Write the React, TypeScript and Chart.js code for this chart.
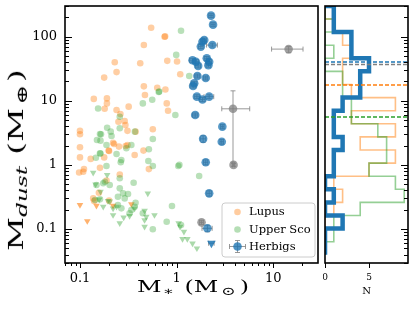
import React, { useEffect, useRef } from "react";
import { Chart, registerables } from "chart.js";
Chart.register(...registerables);

const FONT = "'DejaVu Serif', serif";

// ---------- axis ranges & tick labels ----------
const xMin = 0.07, xMax = 29;
const yMin = 0.0295, yMax = 301;
const nMin = 0, nMax = 9.43;
const xTickValues = [0.1, 1, 10];
const xTickLabels = ["0.1", "1", "10"];
const yTickValues = [0.1, 1, 10, 100];
const yTickLabels = ["0.1", "1", "10", "100"];
const nTickValues = [0, 5];
const nTickLabels = ["0", "5"];

// ---------- Lupus ----------
const lupusMstar = [0.545, 0.75, 0.76, 0.458, 0.229, 0.42, 0.80, 1.01, 0.239, 1.09, 0.178, 0.458, 0.47, 0.63, 0.765, 0.139, 0.19, 0.19, 0.79, 0.815, 0.18, 0.239, 0.319, 0.262, 0.25, 0.29, 0.295, 0.376, 0.31, 0.567, 0.10, 0.10, 0.22, 0.297, 0.10, 0.454, 0.198, 0.2, 0.368, 0.10, 0.129, 0.178, 0.161, 0.11, 0.516, 0.098, 0.108, 0.258, 0.188, 0.137, 0.14, 0.157, 0.20, 0.253, 0.225, 0.31];
const lupusMdust = [138, 100, 101, 74, 40, 38.5, 42, 41, 28, 26, 23, 16.8, 12.3, 16, 15, 10.7, 10.9, 9.1, 9.1, 7.0, 7.5, 7.2, 8.1, 6.2, 4.7, 4.85, 4.2, 3.3, 3.4, 3.6, 3.4, 3.0, 2.22, 1.97, 1.88, 1.67, 1.67, 1.65, 1.43, 1.31, 1.24, 1.31, 0.90, 0.86, 0.86, 0.76, 0.78, 0.71, 0.57, 0.30, 0.274, 0.368, 0.277, 1.93, 2.12, 2.04];
const lupusLimMstar = [0.10, 0.119, 0.148, 0.22, 0.34];
const lupusLimMdust = [0.237, 0.133, 0.231, 0.231, 0.245];

// ---------- Upper Sco ----------
const uscoMstar = [1.11, 0.99, 1.35, 0.653, 0.66, 0.559, 0.447, 0.154, 0.97, 0.258, 0.258, 0.37, 0.161, 0.165, 0.15, 0.163, 0.567, 0.212, 0.188, 0.34, 0.302, 0.516, 0.161, 0.163, 0.146, 0.268, 0.264, 0.188, 0.51, 0.567, 1.04, 0.239, 0.203, 0.258, 0.359, 0.258, 0.279, 0.314, 0.247, 0.29, 0.143, 0.161, 0.247, 0.268, 0.326, 0.34, 0.368, 0.376, 0.447, 0.895, 0.789, 0.567, 1.067, 1.71, 0.148, 0.174, 0.181, 1.11, 0.191, 0.208];
const uscoMdust = [124, 52, 24.4, 13.7, 13.9, 10.4, 9.1, 7.6, 6.0, 5.65, 3.72, 3.3, 3.03, 3.0, 2.45, 2.39, 2.54, 2.82, 2.04, 2.04, 1.82, 1.75, 1.52, 1.50, 1.29, 1.19, 1.10, 0.96, 1.15, 0.96, 0.96, 1.48, 0.486, 0.618, 0.527, 0.431, 0.36, 0.352, 0.319, 0.30, 0.283, 0.29, 0.237, 0.21, 0.176, 0.198, 0.223, 0.257, 0.176, 0.229, 0.13, 0.099, 1.0, 0.671, 0.486, 0.516, 0.547, 0.115, 3.8, 3.3];
const uscoLimMstar = [0.137, 0.191, 0.145, 0.163, 0.158, 0.195, 0.203, 0.174, 0.22, 0.239, 0.368, 0.503, 0.466, 0.22, 0.283, 0.258, 0.326, 0.485, 0.59, 0.466, 0.466, 1.05, 1.085, 1.19, 1.15, 1.29, 1.46, 1.62];
const uscoLimMdust = [0.756, 0.696, 0.498, 0.382, 0.29, 0.274, 0.27, 0.223, 0.21, 0.223, 0.21, 0.36, 0.193, 0.165, 0.152, 0.123, 0.16, 0.156, 0.165, 0.138, 0.109, 0.123, 0.109, 0.0908, 0.0698, 0.0698, 0.0598, 0.050];

// ---------- Herbigs ----------
const herbigMstar = [2.27, 2.38, 1.93, 1.85, 2.34, 1.78, 1.46, 1.58, 2.05, 2.17, 2.13, 1.67, 1.64, 2.0, 1.52, 1.48, 1.62, 1.85, 2.17, 1.556, 2.97, 1.88, 2.93, 2.0, 2.17, 2.08];
const herbigMdust = [213, 154, 89, 83.5, 74, 70, 43, 40.7, 46, 40.7, 36, 35, 24.4, 22.7, 18.8, 17, 11.6, 10.5, 11.6, 6.0, 3.95, 2.55, 2.3, 1.1, 0.36, 0.1025];
const herbigMstarErr = [0.12, 0.12, 0.1, 0.1, 0.3, 0.1, 0.1, 0.1, 0.12, 0.12, 0.12, 0.1, 0.1, 0.1, 0.1, 0.1, 0.1, 0.12, 0.25, 0.1, 0.12, 0.12, 0.12, 0.1, 0.12, 0.25];
const herbigMdustErr = [15, 11, 6, 6, 5, 5, 3, 3, 3, 3, 2.5, 2.5, 1.7, 1.6, 1.3, 1.2, 0.8, 0.8, 0.8, 0.45, 0.3, 0.3, 0.2, 0.1, 0.035, 0.012];
const herbigLimMstar = [2.29];
const herbigLimMdust = [0.06];
const herbigLimMstarErr = [0.15];

// Herbigs shown in grey
const greyMstar = [14.4, 3.83, 3.88, 1.81];
const greyMdust = [64, 7.5, 1.0, 0.127];
const greyMstarErrLo = [4.8, 0.9, 0.1, 0.08];
const greyMstarErrHi = [5.9, 1.87, 0.1, 0.08];
const greyMdustErrLo = [8, 6.4, 0.05, 0.01];
const greyMdustErrHi = [6, 6.8, 0.05, 0.01];

// ---------- Histograms (log-spaced bins, N per bin) ----------
const histBinEdges = [302, 188.8, 118.0, 73.7, 46.0, 28.8, 17.96, 11.22, 7.01, 4.38, 2.735, 1.708, 1.067, 0.666, 0.416, 0.260, 0.1625, 0.1015, 0.0634, 0.0396];
const herbigCounts = [1, 1, 3, 3, 5, 4, 4, 2, 1, 1, 2, 1, 1, 0, 1, 0, 2, 0, 0];
const lupusCounts = [0, 1, 2, 3, 2, 2, 3, 8, 3, 8, 4, 8, 5, 1, 2, 1, 0, 0, 0];
const uscoCounts = [0, 1, 0, 1, 0, 2, 2, 3, 3, 6, 7, 7, 5, 8, 9, 4, 1, 1, 0];
const herbigMedian = 40.3;
const herbigAllMedian = 36.8;
const lupusMedian = 17.6;
const uscoMedian = 5.6;

const BLUE = "#1f77b4", ORANGE = "#ff7f0e", GREEN = "#2ca02c", GREY = "#808080";

const pts = (xs: number[], ys: number[]) => xs.map((x, i) => ({ x, y: ys[i] }));

function stepPoints(edges: number[], counts: number[]) {
  const out: { x: number; y: number }[] = [{ x: 0, y: edges[0] }];
  counts.forEach((c, i) => {
    out.push({ x: c, y: edges[i] });
    out.push({ x: c, y: edges[i + 1] });
  });
  out.push({ x: 0, y: edges[edges.length - 1] });
  return out;
}

function line(ctx: CanvasRenderingContext2D, x0: number, y0: number, x1: number, y1: number) {
  ctx.beginPath();
  ctx.moveTo(x0, y0);
  ctx.lineTo(x1, y1);
  ctx.stroke();
}

const errorBarPlugin = {
  id: "errorBars",
  beforeDatasetsDraw(chart: any) {
    const { ctx, chartArea: a, scales } = chart;
    const xs = scales.x, ys = scales.y;
    ctx.save();
    ctx.beginPath();
    ctx.rect(a.left, a.top, a.right - a.left, a.bottom - a.top);
    ctx.clip();
    chart.data.datasets.forEach((ds: any) => {
      if (!ds.errX && !ds.errY) return;
      ctx.strokeStyle = ds.errColor || "rgba(128,128,128,0.8)";
      ctx.lineWidth = 1;
      ds.data.forEach((p: any, i: number) => {
        const px = xs.getPixelForValue(p.x), py = ys.getPixelForValue(p.y);
        if (ds.errX) {
          const [lo, hi] = ds.errX[i];
          const x0 = xs.getPixelForValue(p.x - lo), x1 = xs.getPixelForValue(p.x + hi);
          line(ctx, x0, py, x1, py);
          line(ctx, x0, py - 2.5, x0, py + 2.5);
          line(ctx, x1, py - 2.5, x1, py + 2.5);
        }
        if (ds.errY) {
          const [lo, hi] = ds.errY[i];
          const y0 = ys.getPixelForValue(Math.max(p.y - lo, 1e-4)), y1 = ys.getPixelForValue(p.y + hi);
          line(ctx, px, y0, px, y1);
          line(ctx, px - 2.5, y0, px + 2.5, y0);
          line(ctx, px - 2.5, y1, px + 2.5, y1);
        }
      });
    });
    ctx.restore();
  },
};

const legendItems = ["Lupus", "Upper Sco", "Herbigs"];

const legendPlugin = {
  id: "insideLegend",
  afterDatasetsDraw(chart: any) {
    const ctx: CanvasRenderingContext2D = chart.ctx;
    const bx = 222, by = 203, bw = 93, bh = 54, r = 3;
    ctx.save();
    ctx.beginPath();
    ctx.moveTo(bx + r, by);
    ctx.arcTo(bx + bw, by, bx + bw, by + bh, r);
    ctx.arcTo(bx + bw, by + bh, bx, by + bh, r);
    ctx.arcTo(bx, by + bh, bx, by, r);
    ctx.arcTo(bx, by, bx + bw, by, r);
    ctx.closePath();
    ctx.fillStyle = "rgba(255,255,255,0.8)";
    ctx.fill();
    ctx.strokeStyle = "#cccccc";
    ctx.lineWidth = 1;
    ctx.stroke();
    const rows = [212, 229.5, 246.5];
    const cols = ["rgba(255,127,14,0.4)", "rgba(44,160,44,0.35)", "rgba(31,119,180,0.8)"];
    const mx = 237.5;
    rows.forEach((ry, i) => {
      if (i === 2) {
        ctx.strokeStyle = "rgba(128,128,128,0.8)";
        line(ctx, mx - 8, ry, mx + 8, ry);
        line(ctx, mx - 8, ry - 2.5, mx - 8, ry + 2.5);
        line(ctx, mx + 8, ry - 2.5, mx + 8, ry + 2.5);
        line(ctx, mx, ry - 6, mx, ry + 6);
        line(ctx, mx - 2.5, ry - 6, mx + 2.5, ry - 6);
        line(ctx, mx - 2.5, ry + 6, mx + 2.5, ry + 6);
      }
      ctx.beginPath();
      ctx.arc(mx, ry, i === 2 ? 4.3 : 3.3, 0, Math.PI * 2);
      ctx.fillStyle = cols[i];
      ctx.fill();
      ctx.fillStyle = "#000";
      ctx.font = `11.5px ${FONT}`;
      ctx.textBaseline = "middle";
      ctx.textAlign = "left";
      ctx.fillText(legendItems[i], 249, ry + 0.5);
    });
    ctx.restore();
  },
};

const mainAxesPlugin = {
  id: "mainAxes",
  afterDraw(chart: any) {
    const { ctx, chartArea: a, scales } = chart;
    const xs = scales.x, ys = scales.y;
    ctx.save();
    ctx.strokeStyle = "#000";
    ctx.lineWidth = 1;
    for (let e = -2; e <= 2; e++) {
      for (let k = 1; k <= 9; k++) {
        const v = k * Math.pow(10, e);
        if (v >= ys.min && v <= ys.max) {
          const py = Math.round(ys.getPixelForValue(v)) + 0.5;
          line(ctx, a.left, py, a.left + (k === 1 ? 7 : 4), py);
        }
        if (v >= xs.min && v <= xs.max) {
          const px = Math.round(xs.getPixelForValue(v)) + 0.5;
          line(ctx, px, a.bottom, px, a.bottom + (k === 1 ? 5 : 3));
        }
      }
    }
    ctx.lineWidth = 1.6;
    ctx.strokeRect(a.left, a.top, a.right - a.left, a.bottom - a.top);
    ctx.restore();
  },
};

const histAxesPlugin = {
  id: "histAxes",
  afterDraw(chart: any) {
    const { ctx, chartArea: a, scales } = chart;
    const xs = scales.x, ys = scales.y;
    ctx.save();
    ctx.strokeStyle = "#000";
    ctx.lineWidth = 1;
    for (let e = -2; e <= 2; e++) {
      for (let k = 1; k <= 9; k++) {
        const v = k * Math.pow(10, e);
        if (v >= ys.min && v <= ys.max) {
          const py = Math.round(ys.getPixelForValue(v)) + 0.5;
          line(ctx, a.right, py, a.right - (k === 1 ? 7 : 4), py);
        }
      }
    }
    nTickValues.forEach((v) => {
      const px = Math.round(xs.getPixelForValue(v)) + 0.5;
      line(ctx, px, a.bottom, px, a.bottom + 5);
    });
    ctx.lineWidth = 1.6;
    ctx.strokeRect(a.left, a.top, a.right - a.left, a.bottom - a.top);
    ctx.restore();
  },
};

function mainConfig(): any {
  return {
    type: "scatter",
    data: {
      datasets: [
        {
          label: "Herbigs",
          data: pts(herbigMstar, herbigMdust),
          pointRadius: 4.3,
          backgroundColor: "rgba(31,119,180,0.75)",
          borderWidth: 0,
          order: 0,
          errX: herbigMstarErr.map((e) => [e, e]),
          errY: herbigMdustErr.map((e) => [e, e]),
        },
        {
          label: "Herbigs limit",
          data: pts(herbigLimMstar, herbigLimMdust),
          pointStyle: "triangle",
          rotation: 180,
          pointRadius: 5,
          backgroundColor: "rgba(31,119,180,0.85)",
          borderWidth: 0,
          order: 0,
          errX: herbigLimMstarErr.map((e) => [e, e]),
        },
        {
          label: "grey",
          data: pts(greyMstar, greyMdust),
          pointRadius: 4.3,
          backgroundColor: "rgba(128,128,128,0.75)",
          borderWidth: 0,
          order: 1,
          errX: greyMstar.map((_, i) => [greyMstarErrLo[i], greyMstarErrHi[i]]),
          errY: greyMdust.map((_, i) => [greyMdustErrLo[i], greyMdustErrHi[i]]),
        },
        {
          label: "Upper Sco",
          data: pts(uscoMstar, uscoMdust),
          pointRadius: 3.3,
          backgroundColor: "rgba(44,160,44,0.33)",
          borderWidth: 0,
          order: 2,
        },
        {
          label: "Upper Sco limits",
          data: pts(uscoLimMstar, uscoLimMdust),
          pointStyle: "triangle",
          rotation: 180,
          pointRadius: 3.8,
          backgroundColor: "rgba(44,160,44,0.4)",
          borderWidth: 0,
          order: 2,
        },
        {
          label: "Lupus",
          data: pts(lupusMstar, lupusMdust),
          pointRadius: 3.3,
          backgroundColor: "rgba(255,127,14,0.38)",
          borderWidth: 0,
          order: 3,
        },
        {
          label: "Lupus limits",
          data: pts(lupusLimMstar, lupusLimMdust),
          pointStyle: "triangle",
          rotation: 180,
          pointRadius: 3.8,
          backgroundColor: "rgba(255,127,14,0.6)",
          borderWidth: 0,
          order: 3,
        },
      ],
    },
    options: {
      responsive: false,
      animation: false,
      devicePixelRatio: 1,
      layout: { padding: { left: 0, right: 3, top: 6, bottom: 0 } },
      plugins: { legend: { display: false }, tooltip: { enabled: false } },
      scales: {
        x: {
          type: "logarithmic",
          bounds: "data",
          min: xMin,
          max: xMax,
          position: "bottom",
          grid: { display: false, drawTicks: false },
          border: { display: false },
          afterBuildTicks: (s: any) => {
            s.ticks = xTickValues.map((v) => ({ value: v }));
          },
          afterDataLimits: (s: any) => {
            s.min = xMin;
            s.max = xMax;
          },
          afterFit: (s: any) => {
            s.height = 59;
            s.paddingLeft = 0;
            s.paddingRight = 0;
            s.paddingTop = 0;
            s.paddingBottom = 0;
          },
          ticks: {
            autoSkip: false,
            maxRotation: 0,
            padding: 8,
            color: "#000",
            font: { family: FONT, size: 13 },
            callback: (_v: any, i: number) => xTickLabels[i],
          },
        },
        y: {
          type: "logarithmic",
          bounds: "data",
          min: yMin,
          max: yMax,
          position: "left",
          grid: { display: false, drawTicks: false },
          border: { display: false },
          afterBuildTicks: (s: any) => {
            s.ticks = yTickValues.map((v) => ({ value: v }));
          },
          afterDataLimits: (s: any) => {
            s.min = yMin;
            s.max = yMax;
          },
          afterFit: (s: any) => {
            s.width = 65;
            s.paddingLeft = 0;
            s.paddingRight = 0;
            s.paddingTop = 0;
            s.paddingBottom = 0;
          },
          ticks: {
            autoSkip: false,
            padding: 8,
            color: "#000",
            font: { family: FONT, size: 13 },
            callback: (_v: any, i: number) => yTickLabels[i],
          },
        },
      },
    },
    plugins: [errorBarPlugin, legendPlugin, mainAxesPlugin],
  };
}

function histConfig(): any {
  const hline = (v: number, color: string, order: number) => ({
    data: [
      { x: nMin, y: v },
      { x: nMax, y: v },
    ],
    showLine: true,
    pointRadius: 0,
    borderColor: color,
    borderWidth: 1.5,
    borderDash: [4, 2],
    order,
  });
  return {
    type: "scatter",
    data: {
      datasets: [
        hline(herbigMedian, BLUE, 0),
        hline(herbigAllMedian, GREY, 0),
        hline(lupusMedian, ORANGE, 0),
        hline(uscoMedian, GREEN, 0),
        {
          data: stepPoints(histBinEdges, herbigCounts),
          showLine: true,
          pointRadius: 0,
          borderColor: BLUE,
          borderWidth: 4.5,
          order: 1,
        },
        {
          data: stepPoints(histBinEdges, uscoCounts),
          showLine: true,
          pointRadius: 0,
          borderColor: "rgba(44,160,44,0.5)",
          borderWidth: 1.6,
          order: 2,
        },
        {
          data: stepPoints(histBinEdges, lupusCounts),
          showLine: true,
          pointRadius: 0,
          borderColor: "rgba(255,127,14,0.5)",
          borderWidth: 1.6,
          order: 3,
        },
      ],
    },
    options: {
      responsive: false,
      animation: false,
      devicePixelRatio: 1,
      layout: { padding: { left: 2, right: 7, top: 6, bottom: 0 } },
      plugins: { legend: { display: false }, tooltip: { enabled: false } },
      scales: {
        x: {
          type: "linear",
          min: nMin,
          max: nMax,
          position: "bottom",
          grid: { display: false, drawTicks: false },
          border: { display: false },
          afterBuildTicks: (s: any) => {
            s.ticks = nTickValues.map((v) => ({ value: v }));
          },
          afterFit: (s: any) => {
            s.height = 59;
            s.paddingLeft = 0;
            s.paddingRight = 0;
          },
          ticks: {
            autoSkip: false,
            maxRotation: 0,
            padding: 9,
            color: "#000",
            font: { family: FONT, size: 9 },
            callback: (_v: any, i: number) => nTickLabels[i],
          },
        },
        y: {
          type: "logarithmic",
          min: yMin,
          max: yMax,
          display: false,
        },
      },
    },
    plugins: [histAxesPlugin],
  };
}

export default function App() {
  const mainRef = useRef<HTMLCanvasElement>(null);
  const histRef = useRef<HTMLCanvasElement>(null);
  useEffect(() => {
    const c1 = new Chart(mainRef.current as HTMLCanvasElement, mainConfig());
    const c2 = new Chart(histRef.current as HTMLCanvasElement, histConfig());
    return () => {
      c1.destroy();
      c2.destroy();
    };
  }, []);
  const sub = { fontSize: "0.7em", verticalAlign: "-0.3em" } as React.CSSProperties;
  return (
    <div style={{ position: "fixed", left: 0, top: 0, width: 415, height: 322, background: "#fff", overflow: "hidden" }}>
      <canvas ref={mainRef} width={323} height={322} style={{ position: "absolute", left: 0, top: 0, width: 323, height: 322 }} />
      <canvas ref={histRef} width={92} height={322} style={{ position: "absolute", left: 323, top: 0, width: 92, height: 322 }} />
      <div
        style={{
          position: "absolute",
          left: 18,
          top: 160,
          transform: "translate(-50%,-50%) rotate(-90deg) scaleX(1.58)",
          whiteSpace: "nowrap",
          fontFamily: FONT,
          fontSize: 21,
          lineHeight: 1,
          color: "#000",
        }}
      >
        M<span style={{ ...sub, fontStyle: "italic" }}>dust</span>
        <span style={{ marginLeft: 7 }}>(M</span>
        <span style={{ ...sub, marginLeft: 2 }}>⊕</span>
        <span style={{ marginLeft: 2 }}>)</span>
      </div>
      <div
        style={{
          position: "absolute",
          left: 192.5,
          top: 288,
          transform: "translate(-50%,-50%) scaleX(1.45)",
          whiteSpace: "nowrap",
          fontFamily: FONT,
          fontSize: 16.5,
          lineHeight: 1,
          color: "#000",
        }}
      >
        M<span style={{ ...sub, marginLeft: 1 }}>∗</span>
        <span style={{ marginLeft: 7 }}>(M</span>
        <span style={{ ...sub, marginLeft: 2 }}>⊙</span>
        <span style={{ marginLeft: 3 }}>)</span>
      </div>
      <div
        style={{
          position: "absolute",
          left: 366.5,
          top: 291,
          transform: "translate(-50%,-50%)",
          fontFamily: FONT,
          fontSize: 10,
          lineHeight: 1,
          color: "#000",
        }}
      >
        N
      </div>
    </div>
  );
}
